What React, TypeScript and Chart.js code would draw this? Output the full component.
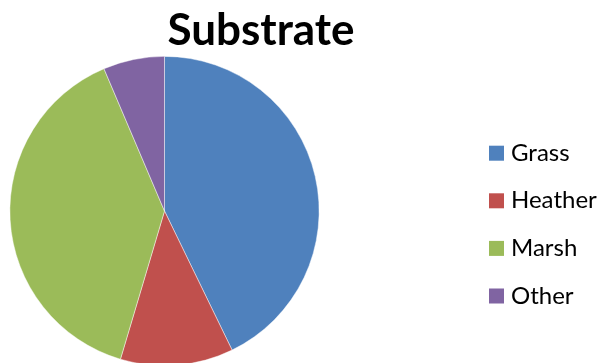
import React, { useEffect, useRef } from "react";
import { Chart, registerables } from "chart.js";

Chart.register(...registerables);

// Substrate share (%) per category
const categories = ["Grass", "Heather", "Marsh", "Other"];
const shares = [42.8, 11.8, 39.0, 6.4];
const sliceColors = ["#4F81BD", "#C0504D", "#9BBB59", "#8064A2"];
const chartTitle = "Substrate";

const CANVAS_W = 601;
const CANVAS_H = 380;

// Title centred above the pie/legend group, and a vertical legend on the right
const decorPlugin = {
  id: "substrateDecor",
  afterDraw(chart: any) {
    const ctx = chart.ctx as CanvasRenderingContext2D;
    ctx.save();
    ctx.fillStyle = "#000000";
    ctx.font = "bold 44px Lato";
    ctx.textAlign = "center";
    ctx.textBaseline = "alphabetic";
    ctx.fillText(chartTitle, 261, 45);

    const labels: string[] = chart.data.labels;
    const colors: string[] = chart.data.datasets[0].backgroundColor;
    ctx.font = "24px Lato";
    ctx.textAlign = "left";
    labels.forEach((label, i) => {
      const baseline = 160.7 + i * 47.6;
      ctx.fillStyle = colors[i];
      ctx.fillRect(489, baseline - 15, 15, 15);
      ctx.fillStyle = "#000000";
      ctx.fillText(label, 511, baseline);
    });
    ctx.restore();
  },
};

export default function App() {
  const canvasRef = useRef<HTMLCanvasElement | null>(null);

  useEffect(() => {
    document.body.style.margin = "0";
    const canvas = canvasRef.current;
    if (!canvas) return;
    const chart = new Chart(canvas, {
      type: "pie",
      data: {
        labels: categories,
        datasets: [
          {
            data: shares,
            backgroundColor: sliceColors,
            borderColor: "rgba(255,255,255,0.6)",
            borderWidth: 0.75,
          },
        ],
      },
      options: {
        responsive: false,
        animation: false,
        devicePixelRatio: 1,
        layout: { padding: { left: 9, right: 281, top: 56, bottom: 14 } },
        plugins: {
          legend: { display: false },
          title: { display: false },
          tooltip: { enabled: false },
        },
      },
      plugins: [decorPlugin],
    });
    return () => chart.destroy();
  }, []);

  return (
    <div
      style={{
        position: "absolute",
        left: 0,
        top: 0,
        width: CANVAS_W,
        height: 363,
        overflow: "hidden",
        background: "#ffffff",
      }}
    >
      <canvas
        ref={canvasRef}
        width={CANVAS_W}
        height={CANVAS_H}
        style={{ width: CANVAS_W, height: CANVAS_H, display: "block" }}
      />
    </div>
  );
}
